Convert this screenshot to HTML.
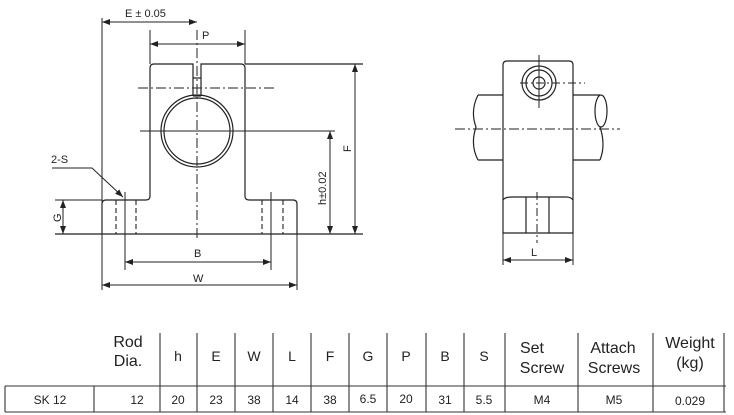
<!DOCTYPE html>
<html><head><style>
body{margin:0;background:#fff;}
svg{display:block;}
text{font-family:"Liberation Sans",sans-serif;fill:#222;}
</style></head><body>
<svg width="734" height="415" viewBox="0 0 734 415" xmlns="http://www.w3.org/2000/svg">
<defs>
<marker id="a" markerWidth="8" markerHeight="6" refX="8" refY="3" orient="auto-start-reverse" markerUnits="userSpaceOnUse"><path d="M0,0 L8,3 L0,6z" fill="#222"/></marker>
</defs>
<g stroke="#222" stroke-width="1.2" fill="none">
<path d="M102,234 L102,204 Q102,200 106,200 L146,200 Q150,200 150,196 L150,68 Q150,64 154,64 L193,64 L193,96 M201,96 L201,64 L241,64 Q245,64 245,68 L245,196 Q245,200 249,200 L293,200 Q297,200 297,204 L297,234"/>
<circle cx="197" cy="131" r="36"/><circle cx="197" cy="131" r="33"/>
<line x1="193" y1="78" x2="201" y2="78"/><line x1="193" y1="96" x2="201" y2="96"/>
<line x1="55" y1="234" x2="363" y2="234"/>
<line x1="245" y1="64" x2="363" y2="64"/>
<line x1="140" y1="131" x2="335" y2="131" stroke-width="1"/>
<line x1="55" y1="200" x2="102" y2="200" stroke-width="1"/>
<line x1="138" y1="88" x2="277" y2="88" stroke-dasharray="10,3,2,3" stroke-width="1"/>
<line x1="197" y1="30" x2="197" y2="240" stroke-dasharray="10,3,2,3" stroke-width="1"/>
<g stroke-dasharray="5,3" stroke-width="1.1">
<line x1="116" y1="200" x2="116" y2="234"/><line x1="136" y1="200" x2="136" y2="234"/>
<line x1="262" y1="200" x2="262" y2="234"/><line x1="283" y1="200" x2="283" y2="234"/>
</g>
<line x1="102" y1="18" x2="102" y2="290" stroke-width="1"/>
<line x1="297" y1="234" x2="297" y2="290" stroke-width="1"/>
<line x1="150" y1="30" x2="150" y2="64" stroke-width="1"/>
<line x1="245" y1="30" x2="245" y2="64" stroke-width="1"/>
<line x1="125" y1="192" x2="125" y2="270" stroke-width="1"/>
<line x1="271" y1="192" x2="271" y2="270" stroke-width="1"/>
<line x1="102" y1="22" x2="197" y2="22" marker-start="url(#a)" marker-end="url(#a)" stroke-width="1"/>
<line x1="150" y1="44" x2="245" y2="44" marker-start="url(#a)" marker-end="url(#a)" stroke-width="1"/>
<line x1="355" y1="64" x2="355" y2="234" marker-start="url(#a)" marker-end="url(#a)" stroke-width="1"/>
<line x1="330" y1="131" x2="330" y2="234" marker-start="url(#a)" marker-end="url(#a)" stroke-width="1"/>
<line x1="63" y1="200" x2="63" y2="234" marker-start="url(#a)" marker-end="url(#a)" stroke-width="1"/>
<line x1="125" y1="262" x2="271" y2="262" marker-start="url(#a)" marker-end="url(#a)" stroke-width="1"/>
<line x1="102" y1="285" x2="297" y2="285" marker-start="url(#a)" marker-end="url(#a)" stroke-width="1"/>
<path d="M52,168 L92,168 L123,197" marker-end="url(#a)" stroke-width="1"/>
<path d="M503,233 L503,65 Q503,61 507,61 L569,61 Q573,61 573,65 L573,233 Z"/>
<path d="M503,200 Q505,197 512,197 L566,197 Q571,197 573,200"/>
<line x1="526" y1="197" x2="526" y2="233"/><line x1="549" y1="197" x2="549" y2="233"/>
<circle cx="539" cy="83" r="17"/><circle cx="539" cy="83" r="13"/><circle cx="539" cy="83" r="6"/>
<line x1="520" y1="83" x2="585" y2="83" stroke-dasharray="8,3,2,3" stroke-width="1"/>
<line x1="539" y1="55" x2="539" y2="108" stroke-width="1"/>
<line x1="537" y1="192" x2="537" y2="243" stroke-dasharray="8,3,2,3" stroke-width="1"/>
<path d="M503,95 L478,95 M503,160 L478,160 M478,95 Q470,111 476,127 Q470,145 478,160"/>
<path d="M573,95 L600,95 M573,160 L600,160"/>
<ellipse cx="601" cy="111" rx="6" ry="16"/>
<path d="M600,127 Q606,145 600,160"/>
<line x1="455" y1="129" x2="620" y2="129" stroke-dasharray="10,3,2,3" stroke-width="1"/>
<line x1="503" y1="233" x2="503" y2="265" stroke-width="1"/><line x1="573" y1="233" x2="573" y2="265" stroke-width="1"/>
<line x1="503" y1="260" x2="573" y2="260" marker-start="url(#a)" marker-end="url(#a)" stroke-width="1"/>
</g>
<g font-size="11">
<text x="125" y="17">E ± 0.05</text>
<text x="202" y="39">P</text>
<text x="194" y="257">B</text>
<text x="193" y="282">W</text>
<text x="51" y="163">2-S</text>
<text x="531" y="256">L</text>
<text transform="translate(351,152) rotate(-90)">F</text>
<text transform="translate(326,205) rotate(-90)">h±0.02</text>
<text transform="translate(61,222) rotate(-90)">G</text>
</g>
<g stroke="#333" stroke-width="1.1">
<line x1="5" y1="386" x2="726" y2="386"/>
<line x1="5" y1="412" x2="726" y2="412"/>
<line x1="5" y1="386" x2="5" y2="412"/>
<line x1="94" y1="386" x2="94" y2="412"/>
<line x1="160" y1="333" x2="160" y2="412"/>
<line x1="197" y1="333" x2="197" y2="412"/>
<line x1="235" y1="333" x2="235" y2="412"/>
<line x1="273" y1="333" x2="273" y2="412"/>
<line x1="311" y1="333" x2="311" y2="412"/>
<line x1="349" y1="333" x2="349" y2="412"/>
<line x1="387" y1="333" x2="387" y2="412"/>
<line x1="426" y1="333" x2="426" y2="412"/>
<line x1="464" y1="333" x2="464" y2="412"/>
<line x1="505" y1="333" x2="505" y2="412"/>
<line x1="578" y1="333" x2="578" y2="412"/>
<line x1="653" y1="333" x2="653" y2="412"/>
<line x1="724" y1="333" x2="724" y2="412"/>
</g>
<g font-size="16" text-anchor="middle">
<text x="128" y="347">Rod</text><text x="128" y="366">Dia.</text>
<text x="178" y="361" font-size="14">h</text>
<text x="216" y="361" font-size="14">E</text>
<text x="254" y="361" font-size="14">W</text>
<text x="292" y="361" font-size="14">L</text>
<text x="330" y="361" font-size="14">F</text>
<text x="368" y="361" font-size="14">G</text>
<text x="406" y="361" font-size="14">P</text>
<text x="445" y="361" font-size="14">B</text>
<text x="484" y="361" font-size="14">S</text>
<text x="532" y="353">Set</text><text x="542" y="373">Screw</text>
<text x="613" y="353">Attach</text><text x="614" y="373">Screws</text>
<text x="690" y="348">Weight</text><text x="690" y="368">(kg)</text>
</g>
<g font-size="12" text-anchor="middle">
<text x="50" y="404">SK 12</text>
<text x="137" y="404">12</text>
<text x="178" y="404">20</text>
<text x="216" y="404">23</text>
<text x="254" y="404">38</text>
<text x="292" y="404">14</text>
<text x="330" y="404">38</text>
<text x="368" y="403">6.5</text>
<text x="406" y="403">20</text>
<text x="445" y="404">31</text>
<text x="484" y="404">5.5</text>
<text x="542" y="404">M4</text>
<text x="614" y="404">M5</text>
<text x="690" y="405">0.029</text>
</g>
</svg>
</body></html>
